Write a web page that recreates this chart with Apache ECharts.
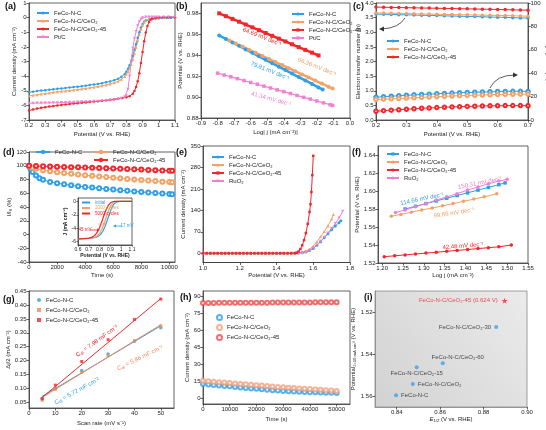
<!DOCTYPE html>
<html>
<head>
<meta charset="utf-8">
<script src="https://cdn.jsdelivr.net/npm/echarts@6/dist/echarts.min.js"></script>
<style>html,body{margin:0;padding:0;background:#fff}#main{width:546px;height:430px}</style>
</head>
<body>
<div id="main"></div>
<script>
// (a) ORR polarisation curves  [potential V, current density mA cm-2]
var aNC = [[0.20,-5.10],[0.225,-5.06],[0.25,-5.02],[0.275,-4.99],[0.30,-4.96],[0.325,-4.93],[0.35,-4.90],[0.375,-4.87],[0.40,-4.84],[0.425,-4.81],[0.45,-4.78],[0.475,-4.75],[0.50,-4.72],[0.525,-4.69],[0.55,-4.65],[0.575,-4.61],[0.60,-4.57],[0.625,-4.53],[0.65,-4.48],[0.675,-4.42],[0.70,-4.36],[0.725,-4.28],[0.75,-4.18],[0.77,-4.05],[0.79,-3.85],[0.80,-3.70],[0.81,-3.50],[0.82,-3.25],[0.83,-2.95],[0.84,-2.60],[0.85,-2.20],[0.86,-1.80],[0.87,-1.38],[0.88,-1.00],[0.89,-0.68],[0.90,-0.44],[0.91,-0.28],[0.92,-0.18],[0.94,-0.12],[0.96,-0.10],[0.98,-0.08],[1.00,-0.05],[1.02,-0.03],[1.05,-0.02],[1.075,-0.01],[1.10,0.00]];
var aCeO2 = [[0.20,-5.35],[0.225,-5.31],[0.25,-5.27],[0.275,-5.23],[0.30,-5.19],[0.325,-5.15],[0.35,-5.11],[0.375,-5.07],[0.40,-5.04],[0.425,-5.01],[0.45,-4.98],[0.475,-4.95],[0.50,-4.92],[0.525,-4.88],[0.55,-4.84],[0.575,-4.80],[0.60,-4.76],[0.625,-4.71],[0.65,-4.66],[0.675,-4.60],[0.70,-4.53],[0.725,-4.45],[0.75,-4.35],[0.77,-4.22],[0.79,-4.02],[0.80,-3.88],[0.81,-3.70],[0.82,-3.47],[0.83,-3.18],[0.84,-2.85],[0.85,-2.45],[0.86,-2.02],[0.87,-1.58],[0.88,-1.16],[0.89,-0.80],[0.90,-0.52],[0.91,-0.32],[0.92,-0.19],[0.94,-0.08],[0.96,-0.04],[0.98,-0.02],[1.00,0.00],[1.03,0.01],[1.06,0.02],[1.10,0.02]];
var aCeO245 = [[0.20,-6.35],[0.225,-6.28],[0.25,-6.22],[0.275,-6.17],[0.30,-6.12],[0.325,-6.08],[0.35,-6.04],[0.375,-6.00],[0.40,-5.97],[0.425,-5.94],[0.45,-5.91],[0.475,-5.88],[0.50,-5.85],[0.525,-5.82],[0.55,-5.80],[0.575,-5.77],[0.60,-5.74],[0.625,-5.71],[0.65,-5.68],[0.675,-5.65],[0.70,-5.62],[0.725,-5.58],[0.75,-5.54],[0.775,-5.49],[0.80,-5.44],[0.82,-5.37],[0.84,-5.20],[0.85,-5.02],[0.86,-4.75],[0.87,-4.35],[0.88,-3.80],[0.89,-3.10],[0.90,-2.35],[0.91,-1.62],[0.92,-1.02],[0.93,-0.58],[0.94,-0.30],[0.95,-0.14],[0.96,-0.06],[0.98,-0.01],[1.00,0.01],[1.03,0.02],[1.06,0.03],[1.10,0.03]];
var aPtC = [[0.20,-5.85],[0.225,-5.85],[0.25,-5.84],[0.275,-5.84],[0.30,-5.83],[0.325,-5.83],[0.35,-5.82],[0.375,-5.82],[0.40,-5.81],[0.425,-5.80],[0.45,-5.79],[0.475,-5.78],[0.50,-5.77],[0.525,-5.76],[0.55,-5.75],[0.575,-5.74],[0.60,-5.72],[0.625,-5.71],[0.65,-5.69],[0.675,-5.67],[0.70,-5.65],[0.725,-5.62],[0.75,-5.58],[0.77,-5.52],[0.79,-5.42],[0.80,-5.35],[0.81,-4.90],[0.82,-4.00],[0.83,-3.00],[0.84,-2.10],[0.85,-1.45],[0.86,-0.95],[0.87,-0.55],[0.88,-0.28],[0.89,-0.10],[0.90,0.00],[0.92,0.04],[0.94,0.05],[0.96,0.05],[0.98,0.05],[1.00,0.05],[1.03,0.05],[1.06,0.05],[1.10,0.05]];

// (b) Tafel plots  [log j, potential]
var bNC = [[-0.79,0.9589],[-0.75,0.9556],[-0.71,0.9523],[-0.67,0.9490],[-0.63,0.9456],[-0.59,0.9423],[-0.55,0.9390],[-0.51,0.9357],[-0.47,0.9324],[-0.43,0.9291],[-0.39,0.9258],[-0.35,0.9225],[-0.31,0.9192],[-0.27,0.9159],[-0.23,0.9126],[-0.19,0.9092],[-0.165,0.9072]];
var bCeO2 = [[-0.73,0.9542],[-0.69,0.9512],[-0.65,0.9483],[-0.61,0.9453],[-0.57,0.9424],[-0.53,0.9394],[-0.49,0.9365],[-0.45,0.9335],[-0.41,0.9306],[-0.37,0.9276],[-0.33,0.9247],[-0.29,0.9217],[-0.25,0.9188],[-0.21,0.9158],[-0.17,0.9129],[-0.13,0.9099],[-0.105,0.9081]];
var bCeO245 = [[-0.79,0.9801],[-0.75,0.9774],[-0.71,0.9748],[-0.67,0.9721],[-0.63,0.9694],[-0.59,0.9667],[-0.55,0.9640],[-0.51,0.9613],[-0.47,0.9586],[-0.43,0.9559],[-0.39,0.9532],[-0.35,0.9505],[-0.31,0.9478],[-0.27,0.9452],[-0.23,0.9425],[-0.19,0.9398]];
var bPtC = [[-0.80,0.9229],[-0.76,0.9211],[-0.72,0.9194],[-0.68,0.9176],[-0.64,0.9158],[-0.60,0.9140],[-0.56,0.9123],[-0.52,0.9105],[-0.48,0.9087],[-0.44,0.9069],[-0.40,0.9052],[-0.36,0.9034],[-0.32,0.9016],[-0.28,0.8998],[-0.24,0.8981],[-0.20,0.8963],[-0.16,0.8945],[-0.12,0.8927],[-0.105,0.8921]];

// (c) electron transfer number and H2O2 yield
var cPot = [0.200,0.225,0.250,0.275,0.300,0.325,0.350,0.375,0.400,0.425,0.450,0.475,0.500,0.525,0.550,0.575,0.600,0.625,0.650,0.675,0.700];
var cnNC = [3.62,3.615,3.61,3.60,3.595,3.59,3.58,3.575,3.57,3.56,3.555,3.55,3.54,3.535,3.53,3.52,3.515,3.51,3.50,3.49,3.485];
var cnCeO2 = [3.66,3.655,3.65,3.645,3.64,3.63,3.625,3.62,3.615,3.61,3.605,3.60,3.595,3.59,3.585,3.58,3.575,3.57,3.565,3.555,3.55];
var cnCeO245 = [3.86,3.855,3.85,3.845,3.84,3.835,3.83,3.825,3.82,3.815,3.81,3.805,3.80,3.795,3.79,3.785,3.78,3.775,3.765,3.76,3.755];
var chNC = [19.5,19.9,20.3,20.7,21.1,21.5,21.8,22.1,22.4,22.7,23.0,23.3,23.5,23.7,23.9,24.1,24.3,24.4,24.5,24.5,24.4];
var chCeO2 = [17.5,17.8,18.1,18.4,18.7,19.0,19.3,19.6,19.9,20.2,20.5,20.8,21.0,21.2,21.4,21.6,21.8,21.9,22.0,22.1,22.1];
var chCeO245 = [7.5,8.0,8.4,8.8,9.2,9.6,10.0,10.3,10.6,10.9,11.2,11.4,11.6,11.8,12.0,12.1,12.2,12.3,12.3,12.3,12.2];

// (d) chronoamperometric retention [time s, I/I0 %] and inset LSV
var dNC = [[0,100],[100,96],[250,91],[500,86],[750,82],[1000,79.5],[1500,76.5],[2000,74.5],[2500,73],[3000,71.5],[3500,70.3],[4000,69.2],[4500,68.2],[5000,67.2],[5500,66.2],[6000,65.3],[6500,64.4],[7000,63.5],[7500,62.7],[8000,61.9],[8500,61.1],[9000,60.4],[9500,59.7],[10000,59],[10200,58.7]];
var dCeO2 = [[0,100],[250,97],[500,95.5],[1000,93.5],[1500,92],[2000,90.5],[2500,89.3],[3000,88.2],[3500,87.2],[4000,86.2],[4500,85.3],[5000,84.4],[5500,83.5],[6000,82.6],[6500,81.7],[7000,80.9],[7500,80.1],[8000,79.3],[8500,78.5],[9000,77.7],[9500,76.9],[10000,76.2],[10200,75.9]];
var dCeO245 = [[0,100],[500,99.5],[1000,99.2],[1500,98.9],[2000,98.6],[2500,98.3],[3000,98],[3500,97.7],[4000,97.4],[4500,97.1],[5000,96.8],[5500,96.4],[6000,96],[6500,95.6],[7000,95.2],[7500,94.8],[8000,94.4],[8500,94],[9000,93.6],[9500,93.2],[10000,92.8],[10200,92.6]];
var insInit = [[0.60,-5.60],[0.65,-5.57],[0.70,-5.52],[0.74,-5.45],[0.77,-5.33],[0.79,-5.18],[0.81,-4.92],[0.83,-4.45],[0.85,-3.75],[0.87,-2.85],[0.89,-1.90],[0.91,-1.05],[0.93,-0.45],[0.95,-0.15],[0.97,-0.04],[1.00,0.00],[1.05,0.00],[1.10,0.00]];
var ins2000 = [[0.60,-5.60],[0.65,-5.57],[0.70,-5.51],[0.74,-5.42],[0.76,-5.32],[0.78,-5.12],[0.80,-4.78],[0.82,-4.20],[0.84,-3.40],[0.86,-2.45],[0.88,-1.50],[0.90,-0.75],[0.92,-0.28],[0.94,-0.08],[0.96,-0.01],[1.00,0.00],[1.05,0.00],[1.10,0.00]];
var ins5000 = [[0.60,-5.60],[0.65,-5.56],[0.70,-5.48],[0.72,-5.40],[0.74,-5.25],[0.76,-4.98],[0.78,-4.55],[0.80,-3.90],[0.82,-3.05],[0.84,-2.10],[0.86,-1.25],[0.88,-0.60],[0.90,-0.22],[0.92,-0.06],[0.94,-0.01],[1.00,0.00],[1.05,0.00],[1.10,0.00]];

// (e) OER polarisation curves
var eBase = [[1.00,0],[1.02,0],[1.04,0],[1.06,0],[1.08,0],[1.10,0],[1.12,0],[1.14,0],[1.16,0],[1.18,0],[1.20,0],[1.22,0],[1.24,0],[1.26,0],[1.28,0],[1.30,0],[1.32,0],[1.34,0],[1.36,0],[1.38,0],[1.40,0],[1.42,0],[1.44,0],[1.46,0],[1.48,0.2]];
var eNC = eBase.concat([[1.50,0.5],[1.52,1],[1.54,2],[1.56,4],[1.58,9],[1.60,16],[1.62,26],[1.64,38],[1.66,51],[1.68,64],[1.70,77],[1.72,89],[1.74,100],[1.75,106]]);
var eCeO2 = eBase.concat([[1.50,0.5],[1.52,1.5],[1.54,3],[1.56,7],[1.58,14],[1.60,24],[1.62,38],[1.64,54],[1.66,71],[1.68,90],[1.70,112],[1.71,127]]);
var eCeO245 = eBase.concat([[1.50,0.5],[1.51,2],[1.52,6],[1.53,14],[1.54,26],[1.55,43],[1.56,66],[1.57,96],[1.58,135],[1.585,160],[1.59,200],[1.595,255],[1.60,318]]);
var eRuO2 = eBase.concat([[1.50,0.5],[1.52,1.2],[1.54,2.5],[1.56,5],[1.58,10],[1.60,17],[1.62,27],[1.64,39],[1.66,52],[1.68,66],[1.70,81],[1.72,97],[1.74,115],[1.76,137]]);

// (f) OER Tafel plots
var fNC = [[1.255,1.580],[1.28,1.583],[1.305,1.586],[1.33,1.589],[1.355,1.592],[1.38,1.595],[1.405,1.598],[1.43,1.601],[1.455,1.604],[1.48,1.607],[1.495,1.609]];
var fCeO2 = [[1.222,1.572],[1.245,1.574],[1.27,1.5765],[1.295,1.579],[1.32,1.581],[1.345,1.5835],[1.37,1.586],[1.395,1.5885],[1.42,1.591],[1.445,1.5935],[1.475,1.597]];
var fCeO245 = [[1.205,1.527],[1.23,1.528],[1.255,1.529],[1.28,1.530],[1.305,1.531],[1.33,1.532],[1.355,1.533],[1.38,1.534],[1.405,1.535],[1.43,1.536],[1.455,1.537],[1.48,1.538],[1.51,1.540]];
var fRuO2 = [[1.232,1.576],[1.255,1.579],[1.28,1.5825],[1.305,1.586],[1.33,1.590],[1.355,1.5935],[1.38,1.597],[1.405,1.601],[1.43,1.6045],[1.455,1.608],[1.48,1.611],[1.50,1.613]];

// (g) double-layer capacitance  [scan rate, delta j / 2]
var gNC = [[5,0.065],[10,0.100],[20,0.165],[30,0.224],[40,0.270],[50,0.318]];
var gCeO2 = [[5,0.058],[10,0.097],[20,0.158],[30,0.218],[40,0.272],[50,0.325]];
var gCeO245 = [[5,0.063],[10,0.112],[20,0.197],[30,0.275],[40,0.348],[50,0.421]];
var gFitNC = [[5,0.072],[50,0.325]];
var gFitCeO2 = [[5,0.068],[50,0.329]];
var gFitCeO245 = [[5,0.068],[50,0.423]];

// (h) OER chronoamperometry
var hTime = [0,2000,4000,6000,8000,10000,12000,14000,16000,18000,20000,22000,24000,26000,28000,30000,32000,34000,36000,38000,40000,42000,44000,46000,48000,50000];
var hNC = [12.8,12.3,11.9,11.4,11.0,10.6,10.1,9.7,9.2,8.8,8.4,8.0,7.6,7.2,6.9,6.6,6.3,6.1,5.9,5.7,5.5,5.3,5.2,5.0,4.9,4.8];
var hCeO2 = [15.5,15.2,14.6,14.3,14.0,13.5,13.2,12.8,12.5,12.0,11.6,11.3,10.9,10.5,10.1,9.8,9.4,9.1,8.8,8.5,8.2,7.9,7.6,7.2,6.9,6.6];
var hCeO245 = [84.3,84.4,84.4,84.5,84.5,84.5,84.6,84.6,84.6,84.7,84.7,84.7,84.7,84.8,84.8,84.8,84.8,84.9,84.9,84.9,84.9,85.0,85.0,85.0,85.0,85.0];

// (i) bifunctional comparison
var iNames = ['FeCo-N-C/CeO₂-45 (0.624 V)','FeCo-N-C/CeO₂-30','FeCo-N-C/CeO₂-60','FeCo-N-C/CeO₂-15','FeCo-N-C/CeO₂','FeCo-N-C'];
var iE12 = [0.8897,0.8858,0.8612,0.8492,0.8474,0.8397];
var iPot = [1.5146,1.5271,1.5443,1.5461,1.5541,1.5594];

var FF = 'Liberation Sans, Arial, Helvetica, sans-serif';
var AX = '#3a3a3a';
var cBlue = '#2f9fe9', cOrange = '#f2a264', cRed = '#f2262b', cPink = '#f27fd3';

function merge(a, b) {
  for (var k in b) {
    if (b[k] && typeof b[k] === 'object' && !Array.isArray(b[k]) && a[k] && typeof a[k] === 'object') merge(a[k], b[k]);
    else a[k] = b[k];
  }
  return a;
}
function pair(xs, ys) { return xs.map(function (x, i) { return [x, ys[i]]; }); }

function ax(gi, min, max, name, gap, o) {
  return merge({
    type: 'value', gridIndex: gi, min: min, max: max,
    name: name, nameLocation: 'middle', nameGap: gap,
    nameTextStyle: {fontSize: 6, color: '#222', fontFamily: FF},
    axisLine: {show: true, onZero: false, lineStyle: {color: AX, width: 0.8}},
    axisTick: {show: true, length: 2.5, lineStyle: {color: AX, width: 0.8}},
    axisLabel: {fontSize: 6, color: '#222', margin: 2.5, fontFamily: FF},
    splitLine: {show: false}
  }, o || {});
}
function fx(d) { return function (v) { return v.toFixed(d); }; }
function plain(v) { return String(v); }

function ln(name, i, data, color, sym, size, o) {
  return merge({
    type: 'line', name: name, xAxisIndex: i, yAxisIndex: i, data: data,
    symbol: sym, symbolSize: size, showSymbol: true,
    lineStyle: {width: 1, color: color}, itemStyle: {color: color, borderWidth: 0.8}, z: 3
  }, o || {});
}
function sc(name, i, data, color, sym, size, o) {
  return merge({
    type: 'scatter', name: name, xAxisIndex: i, yAxisIndex: i, data: data,
    symbol: sym, symbolSize: size, itemStyle: {color: color, borderWidth: 0.8}, z: 3
  }, o || {});
}
function lg(left, top, names, o) {
  return merge({
    left: left, top: top, orient: 'vertical', data: names, padding: 0,
    itemWidth: 12, itemHeight: 4, itemGap: 2, selectedMode: false,
    textStyle: {fontSize: 6, color: '#222', fontFamily: FF},
    formatter: function (n) { return n.split('|')[0]; }
  }, o || {});
}
function grid(l, t, w, h, o) {
  return merge({left: l, top: t, width: w, height: h, show: true, borderColor: AX, borderWidth: 0.8,
    backgroundColor: 'transparent', outerBoundsMode: 'none', containLabel: false}, o || {});
}
function txt(x, y, s, color, rot, size) {
  return {type: 'text', x: x, y: y, rotation: rot || 0, z: 10,
    style: {text: s, fill: color, fontSize: size || 6, fontFamily: FF, align: 'center', verticalAlign: 'middle'}};
}
function seg(x1, y1, x2, y2, color) {
  return {type: 'line', z: 10, shape: {x1: x1, y1: y1, x2: x2, y2: y2}, style: {stroke: color, lineWidth: 0.8}};
}
function head(pts, color) {
  return {type: 'polygon', z: 10, shape: {points: pts}, style: {fill: color}};
}
function label(x, y, s) {
  return {type: 'text', left: x, top: y, z: 10, style: {text: s, fill: '#111', font: 'bold 9px ' + FF}};
}
function cdl(x, y, rot, val, color) {
  return {type: 'text', x: x, y: y, rotation: rot, z: 10, style: {text: '{n|C}{s|dl}{n| = ' + val + ' mF cm⁻²}', align: 'center', verticalAlign: 'middle',
    rich: {n: {fontSize: 6, fill: color, fontFamily: FF}, s: {fontSize: 4.2, fill: color, fontFamily: FF, padding: [3, 0, 0, 0]}}}};
}

// label placement for the (i) points (after the star)
var iLabelPos = [
  {position: 'left', distance: 3},
  {position: 'top', distance: 1, offset: [15, 0]},
  {position: 'bottom', distance: 1, offset: [0, 0]},
  {position: 'right', distance: 3},
  {position: 'right', distance: 3}
];
var iOthers = pair(iE12.slice(1), iPot.slice(1)).map(function (v, k) {
  return {value: v, label: merge({formatter: iNames[k + 1]}, iLabelPos[k])};
});

var option = {
  animation: false,
  backgroundColor: '#fff',
  grid: [
    grid(29, 3, 146, 117),
    grid(201, 3, 149, 115),
    grid(376, 3, 152, 117),
    grid(29, 152, 146, 110),
    grid(78, 198, 54, 47, {backgroundColor: '#fff', z: 5}),
    grid(203, 146, 147, 116.5),
    grid(378, 146, 150, 117),
    grid(29, 291, 145, 117),
    grid(203, 291, 147, 113),
    grid(375, 291, 152, 116, {borderColor: '#888', backgroundColor: {type: 'linear', x: 0, y: 1, x2: 1, y2: 0,
      colorStops: [{offset: 0, color: '#d2d2d2'}, {offset: 1, color: '#ebebeb'}]}})
  ],
  xAxis: [
    ax(0, 0.2, 1.1, 'Potential (V vs. RHE)', 11, {interval: 0.1}),
    ax(1, -0.9, 0, 'Log| j (mA cm⁻²)|', 11, {interval: 0.1, axisLabel: {formatter: fx(1)}}),
    ax(2, 0.2, 0.7, 'Potential (V vs. RHE)', 11, {interval: 0.1}),
    ax(3, 0, 10400, 'Time (s)', 10, {interval: 2000, axisLabel: {showMaxLabel: false, formatter: plain}}),
    ax(4, 0.6, 1.1, 'Potential (V vs. RHE)', 7, {interval: 0.1, z: 6,
      nameTextStyle: {fontSize: 5, fontWeight: 'bold'}, axisLabel: {fontSize: 5, margin: 2}, axisTick: {length: 1.5}}),
    ax(5, 1.0, 1.8, 'Potential (V vs. RHE)', 9, {interval: 0.2, axisLabel: {formatter: fx(1)}}),
    ax(6, 1.19, 1.55, 'Log j (mA cm⁻²)', 9, {axisLabel: {customValues: [1.20,1.25,1.30,1.35,1.40,1.45,1.50,1.55], formatter: fx(2)},
      axisTick: {customValues: [1.20,1.25,1.30,1.35,1.40,1.45,1.50,1.55]}}),
    ax(7, 0, 55, 'Scan rate (mV s⁻¹)', 12, {interval: 10, axisLabel: {showMaxLabel: false}}),
    ax(8, 0, 55000, 'Time (s)', 12, {interval: 10000, axisLabel: {showMaxLabel: false, formatter: plain}}),
    ax(9, 0.83, 0.90, '{i|E}{s|1/2} (V vs. RHE)', 9, {axisLine: {lineStyle: {color: '#888'}},
      nameTextStyle: {rich: {i: {fontStyle: 'italic', fontSize: 6, fontFamily: FF}, s: {fontSize: 4.2, fontFamily: FF, padding: [3, 0, 0, 0]}}},
      axisLabel: {customValues: [0.84,0.86,0.88,0.90], formatter: fx(2)}, axisTick: {customValues: [0.84,0.86,0.88,0.90]}})
  ],
  yAxis: [
    ax(0, -7, 1, 'Current density (mA cm⁻²)', 12, {interval: 1}),
    ax(1, 0.88, 0.99, 'Potential (V vs. RHE)', 16, {interval: 0.02, axisLabel: {showMaxLabel: false, formatter: fx(2)}}),
    ax(2, 0, 4, 'Electron transfer number (n)', 12, {interval: 0.5, axisLabel: {formatter: fx(1)}}),
    ax(3, -40, 120, 'I/I₀ (%)', 13, {interval: 20}),
    ax(4, -6.5, 0.5, 'J (mA cm⁻²)', 6, {z: 6, nameTextStyle: {fontSize: 5, fontWeight: 'bold'},
      axisLabel: {fontSize: 5, margin: 2, customValues: [0,-2,-4,-6]}, axisTick: {length: 1.5, customValues: [0,-2,-4,-6]}}),
    ax(5, -30, 350, 'Current density (mA cm⁻²)', 13, {axisLabel: {customValues: [0,70,140,210,280,350]},
      axisTick: {customValues: [0,70,140,210,280,350]}}),
    ax(6, 1.52, 1.65, 'Potential (V vs. RHE)', 17, {axisLabel: {customValues: [1.52,1.54,1.56,1.58,1.60,1.62,1.64], formatter: fx(2)},
      axisTick: {customValues: [1.52,1.54,1.56,1.58,1.60,1.62,1.64]}}),
    ax(7, 0.03, 0.45, 'Δj/2 (mA cm⁻²)', 17, {axisLabel: {customValues: [0.05,0.10,0.15,0.20,0.25,0.30,0.35,0.40,0.45], formatter: fx(2)},
      axisTick: {customValues: [0.05,0.10,0.15,0.20,0.25,0.30,0.35,0.40,0.45]}}),
    ax(8, -5, 95, 'Current density (mA cm⁻²)', 13, {axisLabel: {customValues: [0,15,30,45,60,75,90]},
      axisTick: {customValues: [0,15,30,45,60,75,90]}}),
    ax(9, 1.51, 1.565, 'Potential{s|J=10 mA cm⁻²} (V vs. RHE)', 16, {inverse: true, axisLine: {lineStyle: {color: '#888'}},
      nameTextStyle: {rich: {s: {fontSize: 4.2, fontFamily: FF, padding: [3, 0, 0, 0]}}},
      axisLabel: {customValues: [1.52,1.54,1.56], formatter: fx(2)}, axisTick: {customValues: [1.52,1.54,1.56]}}),
    ax(2, 0, 100, 'H₂O₂ Yield (%)', 11, {position: 'right', interval: 20, nameRotate: -90})
  ],
  legend: [
    lg(36, 10, ['FeCo-N-C|a', 'FeCo-N-C/CeO₂|a', 'FeCo-N-C/CeO₂-45|a', 'Pt/C|a']),
    lg(291, 11, ['FeCo-N-C|b', 'FeCo-N-C/CeO₂|b', 'FeCo-N-C/CeO₂-45|b', 'Pt/C|b']),
    lg(386, 38, ['FeCo-N-C|c', 'FeCo-N-C/CeO₂|c', 'FeCo-N-C/CeO₂-45|c']),
    lg(35, 149, ['FeCo-N-C|d'], {itemWidth: 14, itemHeight: 3}),
    lg(93, 149, ['FeCo-N-C/CeO₂|d'], {itemWidth: 14, itemHeight: 3}),
    lg(93, 157, ['FeCo-N-C/CeO₂-45|d'], {itemWidth: 14, itemHeight: 3}),
    lg(81, 200, [{name: 'initial|n', textStyle: {color: cBlue}}, {name: '2000 cycles|n', textStyle: {color: cOrange}},
      {name: '5000 cycles|n', textStyle: {color: cRed}}], {itemWidth: 8, itemHeight: 2, itemGap: 0.5, z: 8, textStyle: {fontSize: 4.5}}),
    lg(211, 154, ['FeCo-N-C|e', 'FeCo-N-C/CeO₂|e', 'FeCo-N-C/CeO₂-45|e', 'RuO₂|e']),
    lg(386, 151, ['FeCo-N-C|f', 'FeCo-N-C/CeO₂|f', 'FeCo-N-C/CeO₂-45|f', 'RuO₂|f']),
    lg(37, 297, ['FeCo-N-C|g', 'FeCo-N-C/CeO₂|g', 'FeCo-N-C/CeO₂-45|g'], {itemWidth: 4, itemHeight: 4, itemGap: 4}),
    lg(216, 314, ['FeCo-N-C|h', 'FeCo-N-C/CeO₂|h', 'FeCo-N-C/CeO₂-45|h'], {itemWidth: 5, itemHeight: 5, itemGap: 3})
  ],
  series: [
    ln('FeCo-N-C|a', 0, aNC, cBlue, 'circle', 2.5),
    ln('FeCo-N-C/CeO₂|a', 0, aCeO2, cOrange, 'triangle', 3),
    ln('FeCo-N-C/CeO₂-45|a', 0, aCeO245, cRed, 'circle', 2.5),
    ln('Pt/C|a', 0, aPtC, cPink, 'triangle', 3, {symbolRotate: 180}),

    ln('FeCo-N-C|b', 1, bNC, cBlue, 'circle', 4, {lineStyle: {width: 2.5}}),
    ln('FeCo-N-C/CeO₂|b', 1, bCeO2, cOrange, 'circle', 4, {lineStyle: {width: 2.5}}),
    ln('FeCo-N-C/CeO₂-45|b', 1, bCeO245, cRed, 'rect', 4, {lineStyle: {width: 2.5}}),
    ln('Pt/C|b', 1, bPtC, cPink, 'rect', 3.5, {lineStyle: {width: 1.2}}),

    ln('FeCo-N-C|c', 2, pair(cPot, cnNC), cBlue, 'circle', 3.5),
    ln('FeCo-N-C/CeO₂|c', 2, pair(cPot, cnCeO2), cOrange, 'circle', 3.5),
    ln('FeCo-N-C/CeO₂-45|c', 2, pair(cPot, cnCeO245), cRed, 'circle', 3.5),
    ln('yNC|c', 2, pair(cPot, chNC), cBlue, 'emptyCircle', 3.5, {yAxisIndex: 10}),
    ln('yCeO2|c', 2, pair(cPot, chCeO2), cOrange, 'emptyCircle', 3.5, {yAxisIndex: 10}),
    ln('yCeO245|c', 2, pair(cPot, chCeO245), cRed, 'emptyCircle', 3.5, {yAxisIndex: 10}),

    ln('FeCo-N-C|d', 3, dNC, cBlue, 'emptyCircle', 4),
    ln('FeCo-N-C/CeO₂|d', 3, dCeO2, cOrange, 'emptyCircle', 4),
    ln('FeCo-N-C/CeO₂-45|d', 3, dCeO245, cRed, 'emptyCircle', 4),
    ln('initial|n', 4, insInit, cBlue, 'none', 0, {showSymbol: false, z: 7, lineStyle: {width: 1.2}}),
    ln('2000 cycles|n', 4, ins2000, cOrange, 'none', 0, {showSymbol: false, z: 7, lineStyle: {width: 1.2}}),
    ln('5000 cycles|n', 4, ins5000, cRed, 'none', 0, {showSymbol: false, z: 7, lineStyle: {width: 1.2}}),

    ln('FeCo-N-C|e', 5, eNC, cBlue, 'circle', 3),
    ln('FeCo-N-C/CeO₂|e', 5, eCeO2, cOrange, 'triangle', 3),
    ln('RuO₂|e', 5, eRuO2, cPink, 'triangle', 3, {symbolRotate: 180}),
    ln('FeCo-N-C/CeO₂-45|e', 5, eCeO245, cRed, 'rect', 2.5),

    ln('FeCo-N-C|f', 6, fNC, cBlue, 'rect', 3.5),
    ln('FeCo-N-C/CeO₂|f', 6, fCeO2, cOrange, 'circle', 3.5),
    ln('FeCo-N-C/CeO₂-45|f', 6, fCeO245, cRed, 'circle', 3.5),
    ln('RuO₂|f', 6, fRuO2, cPink, 'circle', 3.5),

    ln('fitNC|g', 7, gFitNC, cBlue, 'none', 0, {showSymbol: false}),
    ln('fitCeO2|g', 7, gFitCeO2, '#f08a58', 'none', 0, {showSymbol: false}),
    ln('fitCeO245|g', 7, gFitCeO245, cRed, 'none', 0, {showSymbol: false}),
    sc('FeCo-N-C|g', 7, gNC, cBlue, 'circle', 3.5),
    sc('FeCo-N-C/CeO₂|g', 7, gCeO2, '#f08a58', 'rect', 3),
    sc('FeCo-N-C/CeO₂-45|g', 7, gCeO245, cRed, 'rect', 3),

    sc('FeCo-N-C|h', 8, pair(hTime, hNC), cBlue, 'emptyCircle', 4),
    sc('FeCo-N-C/CeO₂|h', 8, pair(hTime, hCeO2), '#f4a07c', 'emptyCircle', 4),
    sc('FeCo-N-C/CeO₂-45|h', 8, pair(hTime, hCeO245), '#f04848', 'emptyCircle', 4),

    sc('best|i', 9, [[iE12[0], iPot[0]]], '#ee1f2a',
      'path://M50,0 L61,35 L98,35 L68,57 L79,91 L50,70 L21,91 L32,57 L2,35 L39,35 Z', 6,
      {label: {show: true, position: 'left', distance: 4, formatter: iNames[0], fontSize: 6, color: '#ee1f2a', fontFamily: FF}}),
    sc('others|i', 9, iOthers, '#3aa1ea', 'circle', 4, {
      label: {show: true, fontSize: 6, color: '#222', fontFamily: FF}
    })
  ],
  graphic: [
    label(5, 2, '(a)'), label(176, 2, '(b)'), label(353, 2, '(c)'),
    label(3, 148, '(d)'), label(176, 148, '(e)'), label(352, 148, '(f)'),
    label(3, 295, '(g)'), label(180, 293, '(h)'), label(364, 293, '(i)'),

    txt(262, 37, '64.69 mV dec⁻¹', cRed, -0.38),
    txt(317, 67, '66.36 mV dec⁻¹', cOrange, -0.38),
    txt(270, 71, '79.81 mV dec⁻¹', cBlue, -0.38),
    txt(271, 99, '41.34 mV dec⁻¹', cPink, -0.27),

    {type: 'bezierCurve', z: 10, shape: {x1: 405, y1: 18, cpx1: 399, cpy1: 28, x2: 382, y2: 29}, style: {stroke: '#333', lineWidth: 0.8, fill: null}},
    head([[379, 29], [384, 26.5], [384, 31.5]], '#333'),
    {type: 'bezierCurve', z: 10, shape: {x1: 490, y1: 88, cpx1: 496, cpy1: 75, x2: 515, y2: 75}, style: {stroke: '#333', lineWidth: 0.8, fill: null}},
    head([[518, 75], [513, 72.5], [513, 77.5]], '#333'),

    txt(85, 230, '45 mV', cRed, 0, 4.5),
    seg(90, 230, 98, 230, cRed), head([[100, 230], [97, 228.5], [97, 231.5]], cRed),
    seg(98, 224, 104, 224, cOrange), head([[106, 224], [103, 222.5], [103, 225.5]], cOrange),
    txt(127, 226, '17 mV', cBlue, 0, 4.5),
    seg(122, 226, 115, 226, cBlue), head([[113, 226], [116, 224.5], [116, 227.5]], cBlue),

    txt(422, 199, '114.66 mV dec⁻¹', cBlue, 0.2),
    txt(480, 183, '150.31 mV dec⁻¹', cPink, 0.2),
    txt(454, 213, '99.66 mV dec⁻¹', cOrange, 0.15),
    txt(463, 246, '42.48 mV dec⁻¹', cRed, 0.08),

    cdl(97, 341, 0.62, '7.98', cRed),
    cdl(140, 358, 0.45, '5.86', '#f08a58'),
    cdl(77, 391, 0.5, '5.72', cBlue)
  ]
};

var chart = echarts.init(document.getElementById('main'), null, {renderer: 'canvas'});
chart.setOption(option);
</script>
</body>
</html>
